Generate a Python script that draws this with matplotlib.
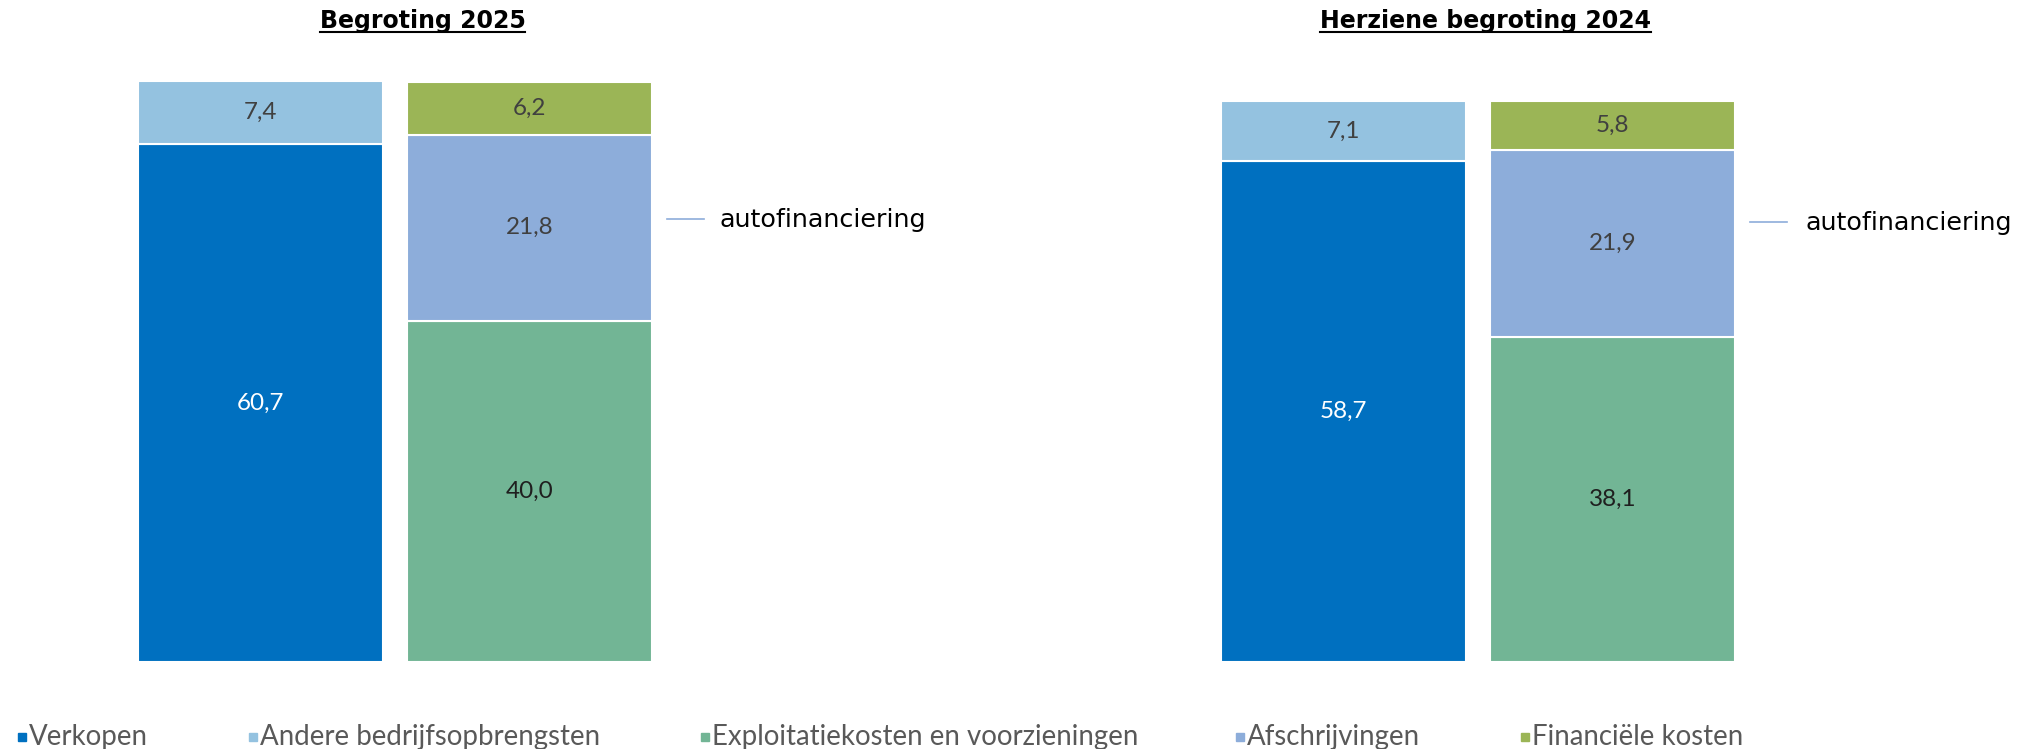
import numpy as np
import matplotlib.pyplot as plt
from matplotlib.patches import Rectangle

W, H = 2023, 749

# data
panels = ['Begroting 2025', 'Herziene begroting 2024']
verkopen = [60.7, 58.7]
andere = [7.4, 7.1]
exploitatie = [40.0, 38.1]
afschrijvingen = [21.8, 21.9]
financieel = [6.2, 5.8]
series_names = ['Verkopen', 'Andere bedrijfsopbrengsten',
                'Exploitatiekosten en voorzieningen', 'Afschrijvingen',
                'Financiële kosten']
colors = ['#0070C0', '#94C2E0', '#72B595', '#8DADDA', '#9BB556']
label_colors = ['white', '#404040', '#1f1f1f', '#404040', '#404040']
line_label = 'autofinanciering'

lbl_font = ['Lato', 'DejaVu Sans']

fig = plt.figure(figsize=(W / 100, H / 100), dpi=100)

# overlay in pixel coords (y down) for titles, legend and notes
ov = fig.add_axes([0, 0, 1, 1], zorder=5)
ov.set_xlim(0, W)
ov.set_ylim(H, 0)
ov.axis('off')
ov.patch.set_alpha(0)

# pixel layout of each panel: (axes left, axes right, center bar 1, center bar 2)
layout = [(0, 1000, 260.5, 530.0), (1011, 2023, 1343.0, 1612.5)]
bar_w_px = 245
y_bottom_px = 662
px_per_unit = 8.53
ymax = 70

def fmt(v):
    return ('%.1f' % v).replace('.', ',')

for i, (x0, x1, c1, c2) in enumerate(layout):
    unit = c2 - c1
    ax = fig.add_axes([x0 / W, (H - y_bottom_px) / H, (x1 - x0) / W,
                       ymax * px_per_unit / H])
    ax.set_xlim((x0 - c1) / unit, (x1 - c1) / unit)
    ax.set_ylim(0, ymax)
    ax.axis('off')
    bw = bar_w_px / unit

    # bar 1: opbrengsten
    segs1 = [(verkopen[i], 0), (andere[i], 1)]
    bottom = 0
    for v, k in segs1:
        ax.bar(0, v, bw, bottom=bottom, color=colors[k], edgecolor='white', linewidth=1.5)
        ax.text(0, bottom + v / 2, fmt(v), ha='center', va='center',
                fontsize=17.5, color=label_colors[k], family=lbl_font)
        bottom += v
    # bar 2: kosten
    segs2 = [(exploitatie[i], 2), (afschrijvingen[i], 3), (financieel[i], 4)]
    bottom = 0
    for v, k in segs2:
        ax.bar(1, v, bw, bottom=bottom, color=colors[k], edgecolor='white', linewidth=1.5)
        ax.text(1, bottom + v / 2, fmt(v), ha='center', va='center',
                fontsize=17.5, color=label_colors[k], family=lbl_font)
        bottom += v

# titles, underlined
title_x = [422.5, 1486]
for t, x in zip(panels, title_x):
    txt = ov.text(x, 28, t, ha='center', va='baseline', fontsize=17,
                  fontweight='bold', family='DejaVu Sans', color='black')
    fig.canvas.draw()
    bb = txt.get_window_extent()
    ov.plot([bb.x0, bb.x1], [32, 32], color='black', lw=1.5)

# autofinanciering notes
for lx, tx, y in [(667, 720, 219), (1750, 1806, 222)]:
    ov.plot([lx, lx + 37], [y, y], color='#8DADDA', lw=1.2)
    ov.text(tx, y + 1, line_label, ha='left', va='center', fontsize=18.3,
            family='DejaVu Sans', color='black')

# legend
leg_x = [18, 249, 701, 1236, 1521]
for name, c, x in zip(series_names, colors, leg_x):
    ov.add_patch(Rectangle((x, 733), 8, 8, color=c))
    ov.text(x + 11, 737, name, ha='left', va='center', fontsize=19.9,
            family=lbl_font, color='#595959')

fig.savefig('out.png', dpi=100)
